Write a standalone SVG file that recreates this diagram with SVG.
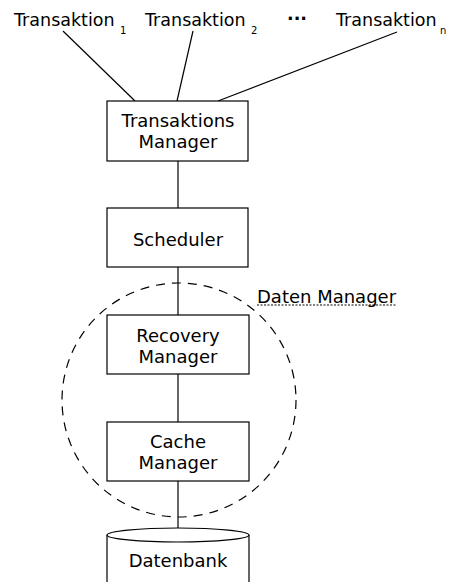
<svg xmlns="http://www.w3.org/2000/svg" width="450" height="582" viewBox="0 0 450 582">
<style>
.box{fill:#fff;stroke:#000;stroke-width:1.2}
.t{font-family:"DejaVu Sans",sans-serif;font-size:18px;fill:#000;text-anchor:middle}
.lab{font-family:"DejaVu Sans",sans-serif;font-size:17.5px;fill:#000}
.sub{font-family:"DejaVu Sans",sans-serif;font-size:10px;fill:#000}
.c line{stroke:#000;stroke-width:1.2}
</style>
<rect width="450" height="582" fill="#fff"/>
<g class="c" id="connectors">
<line x1="63" y1="31" x2="135" y2="101"/>
<line x1="193" y1="31" x2="177" y2="101"/>
<line x1="397" y1="32" x2="218" y2="101"/>
<line x1="178" y1="161" x2="178" y2="208"/>
<line x1="178" y1="267" x2="178" y2="315"/>
<line x1="178" y1="374" x2="178" y2="422"/>
<line x1="178" y1="481" x2="178" y2="528"/>
</g>
<g id="datenmanager">
<circle cx="179" cy="400" r="117" fill="none" stroke="#000" stroke-width="1.2" stroke-dasharray="9,7"/>
<text class="lab" x="257" y="303" style="font-size:18px">Daten Manager</text>
<line x1="257" y1="305" x2="397" y2="305" stroke="#000" stroke-width="1" stroke-dasharray="2,1.5"/>
</g>
<g id="t1"><text class="lab" x="14" y="26">Transaktion</text><text class="sub" x="120" y="34">1</text></g>
<g id="t2"><text class="lab" x="145" y="26">Transaktion</text><text class="sub" x="251" y="34">2</text></g>
<g id="dots"><text class="lab" x="287" y="20" style="font-weight:bold">...</text></g>
<g id="tn"><text class="lab" x="336" y="26">Transaktion</text><text class="sub" x="440" y="34">n</text></g>
<g id="tm"><rect class="box" x="107" y="101" width="141" height="60"/><text class="t" x="178" y="127">Transaktions</text><text class="t" x="178" y="148">Manager</text></g>
<g id="sched"><rect class="box" x="107" y="208" width="141" height="59"/><text class="t" x="178" y="246">Scheduler</text></g>
<g id="rec"><rect class="box" x="107" y="315" width="142" height="59"/><text class="t" x="178" y="342">Recovery</text><text class="t" x="178" y="363">Manager</text></g>
<g id="cache"><rect class="box" x="107" y="422" width="142" height="59"/><text class="t" x="178" y="448">Cache</text><text class="t" x="178" y="469">Manager</text></g>
<g id="db">
<path d="M107,535 L107,590 L249,590 L249,535" fill="#fff" stroke="#000" stroke-width="1.2"/>
<ellipse cx="178" cy="535" rx="71" ry="7" fill="#fff" stroke="#000" stroke-width="1.2"/>
<text class="t" x="178" y="567">Datenbank</text>
</g>
</svg>
